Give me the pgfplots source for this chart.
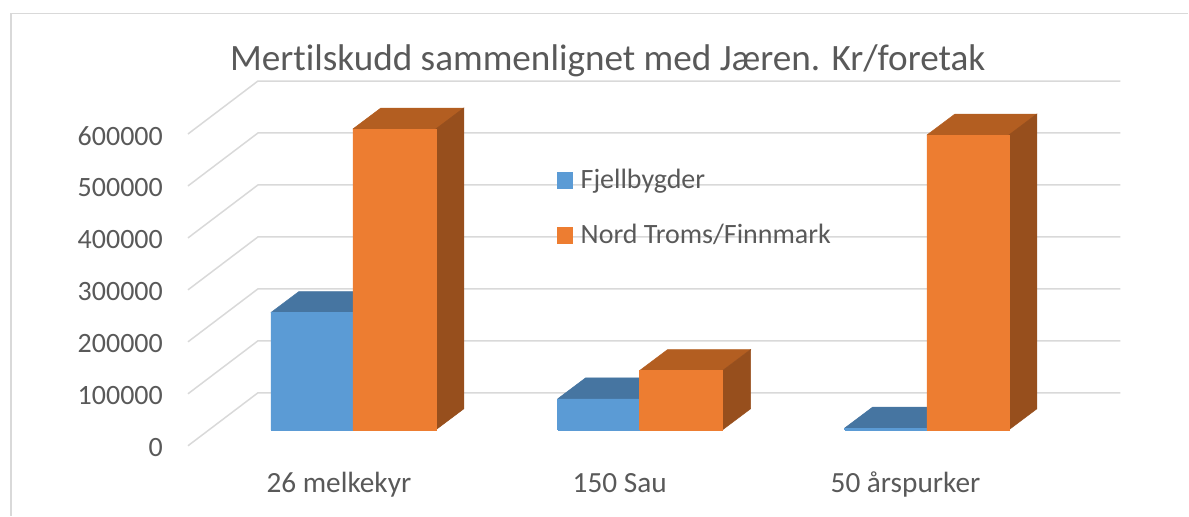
\documentclass[border=0pt]{standalone}
\usepackage{fontspec}
\setmainfont{Carlito}[Ligatures=NoCommon]
\usepackage{pgfplots}
\pgfplotsset{compat=1.18}
\definecolor{txt}{HTML}{595959}
\definecolor{gridc}{HTML}{D9D9D9}
\definecolor{bf}{HTML}{5B9BD5}
\definecolor{bt}{HTML}{4675A1}
\definecolor{of}{HTML}{ED7D31}
\definecolor{ot}{HTML}{B35E21}
\definecolor{os}{HTML}{974F1D}
% one pixel of the reference = 1923.08 value units; bars stand 16 px above the front floor line
\def\base{30769}
\def\dep{40385}
\newcommand{\topface}[4]{% x0 x1 value colour
  \edef\ya{\the\numexpr\base+#3\relax}\edef\yb{\the\numexpr\base+#3+\dep\relax}
  \pgfmathsetmacro{\xa}{#1+28}\pgfmathsetmacro{\xb}{#2+28}
  \addplot[forget plot,fill=#4,draw=#4,line width=0.5pt] coordinates {(#1,\ya) (\xa,\yb) (\xb,\yb) (#2,\ya) (#1,\ya)};}
\newcommand{\frontface}[4]{% x0 x1 value colour
  \edef\ya{\the\numexpr\base+#3\relax}
  \addplot[forget plot,fill=#4,draw=#4,line width=0.5pt] coordinates {(#1,\base) (#1,\ya) (#2,\ya) (#2,\base) (#1,\base)};}
\newcommand{\sideface}[3]{% x1 value colour
  \edef\ya{\the\numexpr\base+#2\relax}\edef\yb{\the\numexpr\base+#2+\dep\relax}\edef\yc{\the\numexpr\base+\dep\relax}
  \pgfmathsetmacro{\xb}{#1+28}
  \addplot[forget plot,fill=#3,draw=#3,line width=0.5pt] coordinates {(#1,\base) (#1,\ya) (\xb,\yb) (\xb,\yc) (#1,\base)};}
\newcommand{\gridl}[1]{%
  \edef\yb{\the\numexpr#1+101923\relax}
  \addplot[forget plot,gridc,line width=1.5pt] coordinates {(188,#1) (258,\yb) (1121,\yb)};}
\begin{document}
\begin{tikzpicture}
\begin{axis}[
  scale only axis,
  width=1189pt,height=516pt,
  xmin=0,xmax=1189,
  ymin=-134615,ymax=857692,
  axis line style={draw=none},
  major tick length=0pt,
  clip=false,
  scaled y ticks=false,
  font=\fontsize{28}{32}\selectfont,
  tick label style={text=txt,inner sep=0pt},
  ytick={0,100000,200000,300000,400000,500000,600000},
  yticklabel style={/pgf/number format/assume math mode=true,/pgf/number format/1000 sep={},/pgf/number format/fixed,anchor=east,xshift=163pt,yshift=-2pt},
  xtick={339,620,906},
  xticklabels={26 melkekyr,150 Sau,50 årspurker},
  xticklabel style={anchor=base,yshift=23pt,font=\fontsize{29.3}{32}\selectfont},
  title={Mertilskudd sammenlignet med Jæren. Kr/foretak},
  title style={at={(608/1189,1-67/516)},anchor=center,text=txt,font=\fontsize{37.2}{40}\selectfont,inner sep=0pt},
  legend style={at={(557/1189,1-167.5/516)},anchor=north west,draw=none,fill=none,inner sep=0pt,outer sep=0pt,
    row sep=30pt,font=\fontsize{28}{32}\selectfont,text=txt,
    legend cell align=left},
]
% chart frame
\addplot[forget plot,gridc,line width=1.5pt] coordinates {(11,-134615) (11,832000) (1189,832000)};
% gridlines
\gridl{0}\gridl{100000}\gridl{200000}\gridl{300000}\gridl{400000}\gridl{500000}\gridl{600000}
% 26 melkekyr
\topface{271}{353}{225600}{bt}
\frontface{271}{353}{225600}{bf}
\topface{353}{436}{578800}{ot}
\sideface{436}{578800}{os}
\frontface{353}{436}{578800}{of}
% 150 Sau
\topface{558}{640}{59600}{bt}
\frontface{558}{640}{59600}{bf}
\topface{640}{723}{114000}{ot}
\sideface{723}{114000}{os}
\frontface{640}{723}{114000}{of}
% 50 aarspurker
\topface{845}{927.5}{3000}{bt}
\frontface{845}{927.5}{3000}{bf}
\topface{927.5}{1009.5}{567300}{ot}
\sideface{1009.5}{567300}{os}
\frontface{927.5}{1009.5}{567300}{of}
\addlegendimage{only marks,mark=square*,mark size=8pt,mark options={fill=bf,draw=bf}}
\addlegendentry{\hspace{6pt}Fjellbygder}
\addlegendimage{only marks,mark=square*,mark size=8pt,mark options={fill=of,draw=of}}
\addlegendentry{\hspace{6pt}Nord Troms/Finnmark}
\end{axis}
\end{tikzpicture}
\end{document}
